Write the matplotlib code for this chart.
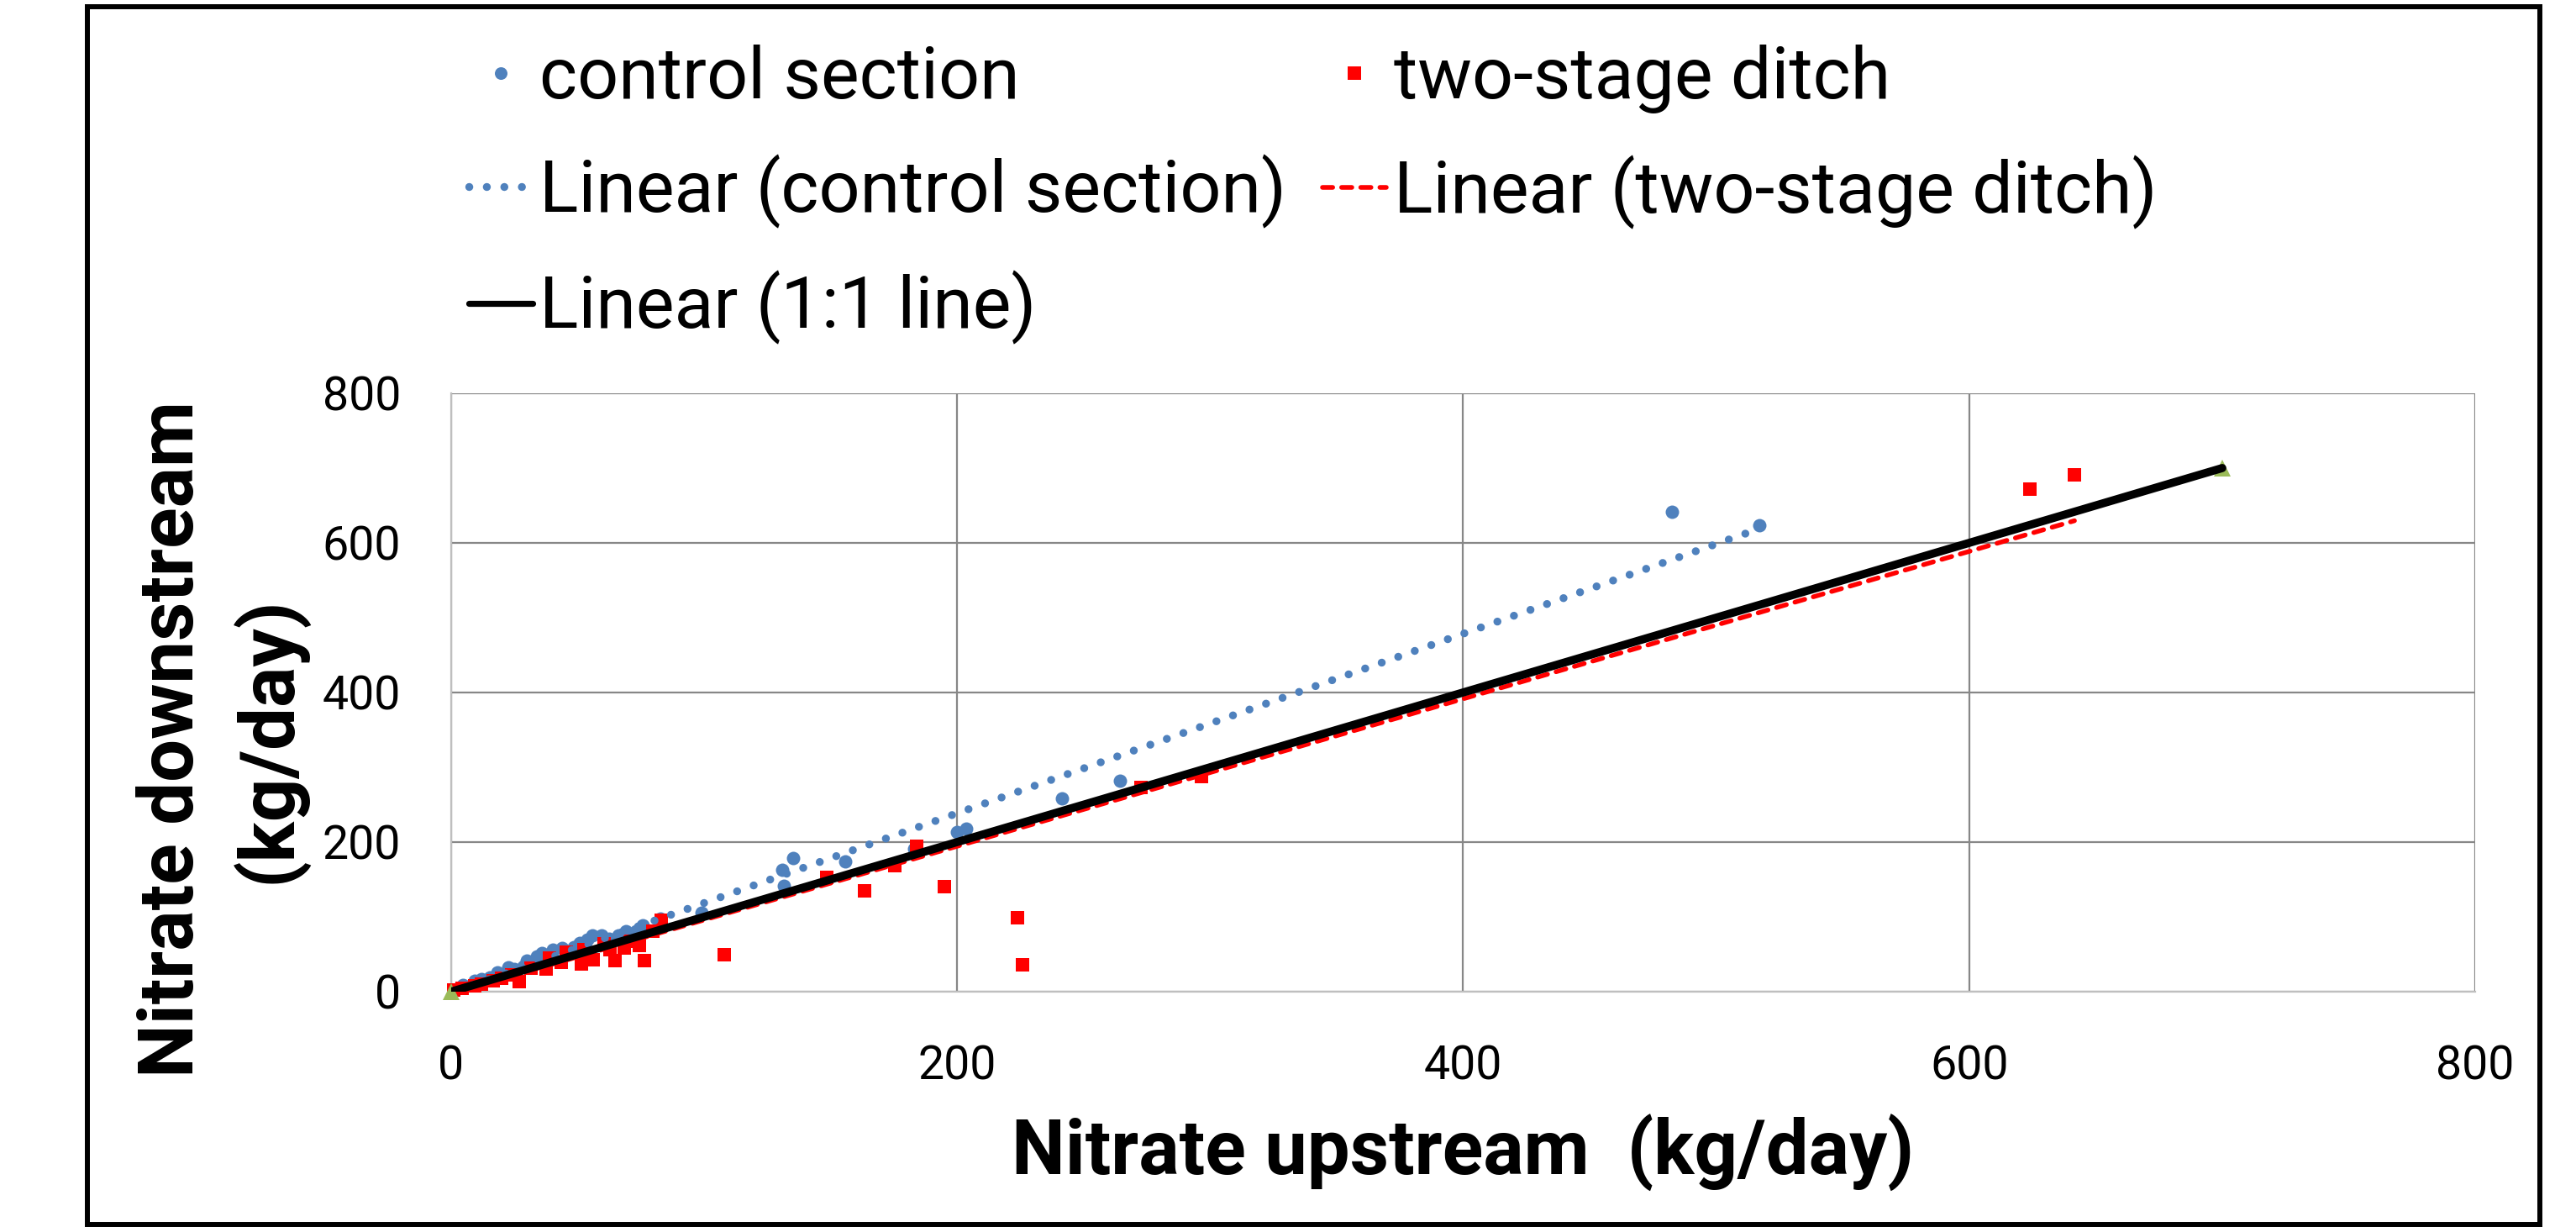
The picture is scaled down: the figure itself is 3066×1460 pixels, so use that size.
import matplotlib
matplotlib.use("Agg")
import matplotlib.pyplot as plt
from matplotlib.lines import Line2D
from matplotlib.patches import Rectangle
import numpy as np

plt.rcParams['font.family'] = ['Roboto', 'DejaVu Sans']

# control section (upstream, downstream) kg/day
ctrl_x = [2, 4.8, 9.3, 12, 15.2, 18.2, 22.6, 25, 28.5, 29.9, 34, 36, 40.3, 44,
          48.5, 50.7, 54, 55.9, 59.6, 62.5, 66, 69.2, 73, 75.6, 82.7, 99,
          131, 131.6, 135.2, 155.7, 183, 200, 203.6, 241.6, 264.3, 482.5, 517]
ctrl_y = [3, 9.4, 15, 17, 19, 26, 32, 30, 34, 42, 47, 52, 56, 58,
          60, 65.5, 70, 75, 75, 71, 75, 80.5, 80.5, 88.8, 97.5, 105.6,
          162.6, 141.6, 179, 174.5, 191, 214, 218, 258, 282, 641, 623]

# two-stage ditch
ditch_x = [1, 4.2, 9.2, 12, 16.6, 20, 24, 27, 31.5, 37.5, 39, 43.4, 45.7, 51.4,
           52.4, 54.6, 56.3, 60.5, 62.8, 64.8, 68.5, 70.8, 74.4, 76.3, 79.6, 82.9,
           108, 148.6, 163.4, 175.5, 184.1, 194.9, 224, 226, 272.5, 296.5,
           623.9, 641.6]
ditch_y = [2, 4, 7.5, 10, 15, 18, 22.5, 13, 31.8, 30, 45, 39.6, 52.8, 37.4,
           56.5, 47, 43, 64, 56, 41.2, 58, 67, 61.8, 41.2, 80.5, 95.5,
           49.4, 152.8, 134.8, 168.5, 194, 140.8, 99, 35.4, 273.4, 287.3,
           672.2, 691]

# 1:1 line series
one_x = [0, 700]
one_y = [0, 700]

# trend lines as shown (slope, intercept)
ctrl_fit = (1.2, -1.5)
ditch_fit = (0.9855, -2.7)

blue = '#4F81BD'
red = '#FF0000'
green = '#9BBB59'

fig = plt.figure(figsize=(30.66, 14.6), dpi=100)
ax = fig.add_axes([0.1751, 0.1918, 0.7858, 0.4877])

ax.plot(ctrl_x, ctrl_y, 'o', color=blue, markersize=11.5, markeredgewidth=0,
        zorder=3, clip_on=False)
ax.plot(ditch_x, ditch_y, 's', color=red, markersize=11.2, markeredgewidth=0,
        zorder=4, clip_on=False)
ax.plot(one_x, one_y, '^', color=green, markersize=14, markeredgewidth=0,
        zorder=5, clip_on=False)

xc = np.array([min(ctrl_x), max(ctrl_x)])
ax.plot(xc, ctrl_fit[0] * xc + ctrl_fit[1], color=blue, lw=6.8,
        dashes=(0.01, 2.2), dash_capstyle='round', zorder=6)
xd = np.array([min(ditch_x), max(ditch_x)])
ax.plot(xd, ditch_fit[0] * xd + ditch_fit[1], color=red, lw=4,
        dashes=(2.2, 1.9), dash_capstyle='round', zorder=7)
xo = np.array(one_x)
ax.plot(xo, xo, color='black', lw=7, solid_capstyle='round', zorder=8)

ax.set_xlim(0, 800)
ax.set_ylim(0, 800)
ax.set_xticks([0, 200, 400, 600, 800])
ax.set_yticks([0, 200, 400, 600, 800])
ax.set_axisbelow(True)
ax.grid(True, color='#878787', lw=1.6)
for s in ['top', 'right']:
    ax.spines[s].set_visible(False)
for s in ['left', 'bottom']:
    ax.spines[s].set_color('#BFBFBF')
    ax.spines[s].set_linewidth(1.6)
ax.tick_params(axis='both', length=0, labelsize=40)
ax.tick_params(axis='x', pad=45)
ax.tick_params(axis='y', pad=43)

fig.text(1741 / 3066, 1 - 1398 / 1460, 'Nitrate upstream  (kg/day)',
         ha='center', va='baseline', fontsize=65, fontweight='bold')
fig.text(230 / 3066, 1 - 880 / 1460, 'Nitrate downstream', rotation=90,
         rotation_mode='anchor', ha='center', va='baseline', fontsize=65,
         fontweight='bold')
fig.text(346 / 3066, 1 - 880 / 1460, '(kg/day)', rotation=90,
         rotation_mode='anchor', ha='center', va='baseline', fontsize=65,
         fontweight='bold')

handles = [
    Line2D([], [], ls='none', marker='o', color=blue, markersize=10.8, markeredgewidth=0),
    Line2D([], [], color=blue, lw=6.8, dashes=(0.01, 2.2), dash_capstyle='round'),
    Line2D([], [], color='black', lw=5.2, solid_capstyle='round'),
    Line2D([], [], ls='none', marker='s', color=red, markersize=11, markeredgewidth=0),
    Line2D([], [], color=red, lw=4, dashes=(2.2, 1.9), dash_capstyle='round'),
]
labels = ['control section', 'Linear (control section)', 'Linear (1:1 line)',
          'two-stage ditch', 'Linear (two-stage ditch)']
fig.legend(handles, labels, ncol=2, loc='upper left',
           bbox_to_anchor=(558 / 3066, 1 - 53 / 1460), frameon=False,
           fontsize=62, borderpad=0, borderaxespad=0, handlelength=0.88,
           handletextpad=0.1, columnspacing=0.5, labelspacing=0.58, numpoints=1)

fig.patches.append(Rectangle((104 / 3066, 3 / 1460), (3023 - 104) / 3066,
                             (1452 - 3) / 1460, transform=fig.transFigure,
                             fill=False, edgecolor='black', lw=4.3))

fig.savefig('out.png', dpi=100)
